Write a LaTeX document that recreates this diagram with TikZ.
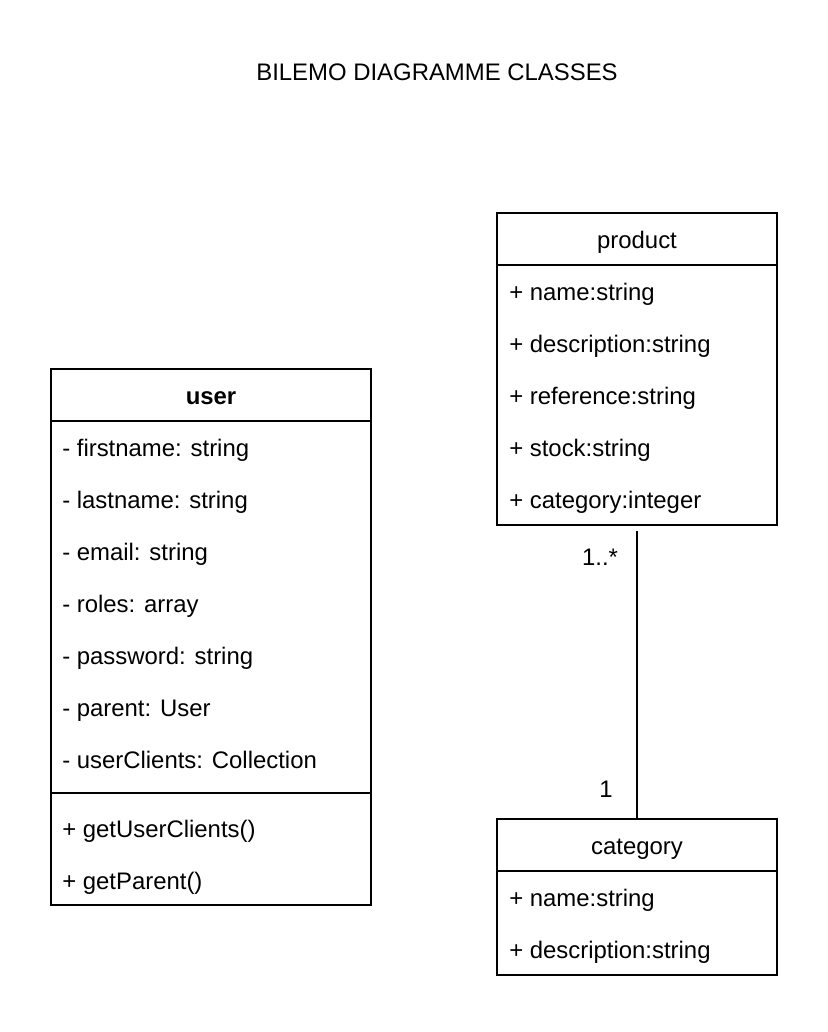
\documentclass[tikz,border=0pt]{standalone}
\usepackage{fontspec}
\setmainfont{Liberation Sans}
\usepackage{tikz}
\usetikzlibrary{positioning}

\begin{document}
\begin{tikzpicture}[x=0.025cm,y=-0.025cm,
  font=\fontsize{17}{20}\selectfont,
  umlbox/.style={draw,line width=1.1pt,rectangle,inner sep=0pt},
  umlhead/.style={umlbox,minimum height=52*0.025cm,text height=16.8pt,text depth=4pt},
  umlrow/.style={anchor=west,inner sep=0pt,text height=16.6pt,text depth=4pt},
  mult/.style={inner sep=0pt}]
\useasboundingbox (0,0) rectangle (828,1032);
\node(title) at (437,72){BILEMO DIAGRAMME CLASSES};
% user
\node[umlbox,minimum width=320*0.025cm,minimum height=536*0.025cm](user) at (211,637){};
\node[umlhead,minimum width=320*0.025cm](userhead) at (211,395){\textbf{user}};
\path[-,draw,line width=1.1pt](51,793)--(371,793);
\node[umlrow](u1) at (62,448){- firstname: string};
\node[umlrow](u2) at (62,500){- lastname: string};
\node[umlrow](u3) at (62,552){- email: string};
\node[umlrow](u4) at (62,604){- roles: array};
\node[umlrow](u5) at (62,656){- password: string};
\node[umlrow](u6) at (62,708){- parent: User};
\node[umlrow](u7) at (62,760){- userClients: Collection};
\node[umlrow](u8) at (62,829){+ getUserClients()};
\node[umlrow](u9) at (62,881){+ getParent()};
% product
\node[umlbox,minimum width=280*0.025cm,minimum height=312*0.025cm](product) at (637,369){};
\node[umlhead,minimum width=280*0.025cm](prodhead) at (637,239){product};
\node[umlrow](p1) at (509,292){+ name:string};
\node[umlrow](p2) at (509,344){+ description:string};
\node[umlrow](p3) at (509,396){+ reference:string};
\node[umlrow](p4) at (509,448){+ stock:string};
\node[umlrow](p5) at (509,500){+ category:integer};
% category
\node[umlbox,minimum width=280*0.025cm,minimum height=156*0.025cm](category) at (637,897){};
\node[umlhead,minimum width=280*0.025cm](cathead) at (637,845){category};
\node[umlrow](c1) at (509,898){+ name:string};
\node[umlrow](c2) at (509,950){+ description:string};
% association
\coordinate(prodend) at (637,531);
\path[-,draw,line width=1.1pt](prodend)--(cathead);
\node[mult](m1) at (600,557){1..*};
\node[mult](m2) at (606,789){1};
\end{tikzpicture}
\end{document}
